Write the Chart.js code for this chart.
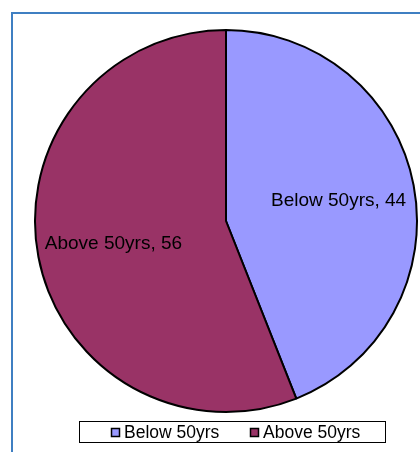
<!DOCTYPE html>
<html>
<head>
<meta charset="utf-8">
<script src="https://cdn.jsdelivr.net/npm/chart.js@4"></script>
<style>
  html, body { margin: 0; padding: 0; background: #fff; }
  #wrap { position: relative; width: 420px; height: 452px; }
</style>
</head>
<body>
<div id="wrap"><canvas id="graphique-camembert" width="420" height="452"></canvas></div>
<script>
// Données du graphique
const categories = ['Below 50yrs', 'Above 50yrs'];
const valeurs = [44, 56];
const couleurs = ['#9999ff', '#993366'];

// Cadre, étiquettes et légende dessinés à la main
const decorPlugin = {
    id: 'decor',
    beforeDraw(chart) {
        const ctx = chart.ctx;
        ctx.save();
        ctx.strokeStyle = '#3f7fc2';
        ctx.lineWidth = 2;
        ctx.strokeRect(12, 13, 430, 460);
        ctx.restore();
    },
    afterDraw(chart) {
        const ctx = chart.ctx;
        const meta = chart.getDatasetMeta(0);
        ctx.save();
        ctx.fillStyle = '#000';
        ctx.textAlign = 'center';
        ctx.textBaseline = 'middle';
        ctx.font = '19px "Liberation Sans", Arial, sans-serif';
        meta.data.forEach((arc, i) => {
            const mid = (arc.startAngle + arc.endAngle) / 2;
            const r = arc.outerRadius * 0.6;
            const x = arc.x + Math.cos(mid) * r;
            const y = arc.y + Math.sin(mid) * r;
            ctx.fillText(categories[i] + ', ' + valeurs[i], x, y + 1);
        });

        // Légende encadrée en bas
        ctx.strokeStyle = '#000';
        ctx.lineWidth = 1;
        ctx.strokeRect(79.5, 421.5, 306, 21);
        ctx.font = '17.5px "Liberation Sans", Arial, sans-serif';
        ctx.textAlign = 'left';
        const positions = [111, 250];
        categories.forEach((label, i) => {
            const x = positions[i];
            ctx.fillStyle = couleurs[i];
            ctx.fillRect(x, 428, 9, 9);
            ctx.strokeStyle = '#000';
            ctx.lineWidth = 1.5;
            ctx.strokeRect(x + 0.5, 428.5, 8, 8);
            ctx.fillStyle = '#000';
            ctx.fillText(label, x + 13, 433);
        });
        ctx.restore();
    }
};

const ctx = document.getElementById('graphique-camembert').getContext('2d');
new Chart(ctx, {
    type: 'pie',
    data: {
        labels: categories,
        datasets: [{
            data: valeurs,
            backgroundColor: couleurs,
            borderColor: '#000',
            borderWidth: 2
        }]
    },
    options: {
        responsive: false,
        animation: false,
        devicePixelRatio: 1,
        layout: { padding: { left: 34, right: 2, top: 29, bottom: 39 } },
        plugins: {
            legend: { display: false },
            tooltip: { enabled: false }
        }
    },
    plugins: [decorPlugin]
});
</script>
</body>
</html>
